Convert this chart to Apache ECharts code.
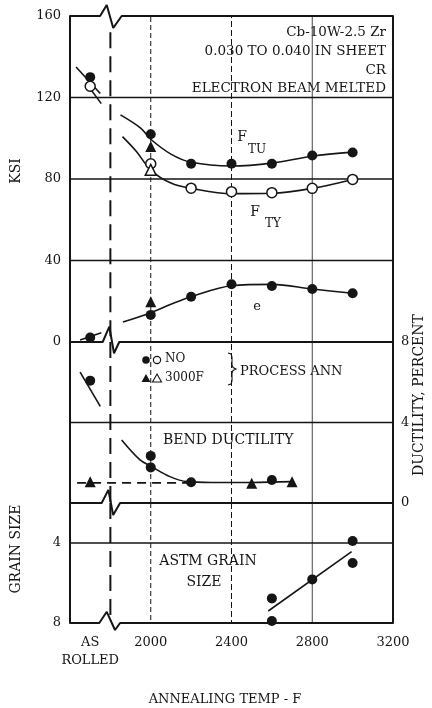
<!DOCTYPE html>
<html>
<head>
<meta charset="utf-8">
<script src="https://cdn.jsdelivr.net/npm/echarts@6/dist/echarts.min.js"></script>
<style>
  html, body { margin: 0; padding: 0; background: #fff; }
  #chart { width: 432px; height: 708px; }
</style>
</head>
<body>
<div id="chart"></div>
<script>
// ---- axis ticks -----------------------------------------------------------
const xTickValues = [1700, 2000, 2400, 2800, 3200];
const xTickLabels = ['AS\nROLLED', '2000', '2400', '2800', '3200'];
const ksiTicks = [0, 40, 80, 120, 160];
const ductilityTicks = [0, 4, 8];
const grainTicks = [4, 8];

// ---- temperatures (F); as-rolled condition plotted left of the axis break ----
const temps = [1700, 2000, 2200, 2400, 2600, 2800, 3000];

// ---- strength (ksi) and elongation, no process anneal ----
const ftu = [130, 102, 87.5, 87.5, 87.5, 91.5, 93];
const fty = [125.5, 87.5, 75.5, 73.8, 73.3, 75.4, 79.8];
const elong = [2.2, 13.3, 22.2, 28.3, 27.5, 26, 23.9];

// ---- 3000F process anneal ----
const ftu3000 = [[2000, 96]];
const fty3000 = [[2000, 84.5]];
const elong3000 = [[2000, 19.8]];

// ---- faired curves ----
const ftuCurve = [[1850, 111.5], [1950, 105], [2000, 99.5], [2100, 92.2], [2200, 88.2], [2400, 86.4], [2600, 87.8], [2800, 91.2], [3000, 93.2]];
const ftyCurve = [[1860, 100.8], [1930, 93.4], [2000, 84.4], [2100, 78], [2200, 75.4], [2400, 72.8], [2600, 73], [2800, 75.4], [3000, 79.8]];
const elongCurve = [[1862, 9.8], [2000, 14.4], [2100, 18.5], [2200, 22.2], [2400, 27.6], [2600, 28.3], [2800, 26], [3000, 23.9]];
const ftuAsRolledTrend = [[1630, 135], [1750, 122]];
const ftyAsRolledTrend = [[1680, 127], [1755, 117]];
const elongAsRolledTrend = [[1650, 1], [1755, 4.5]];

// ---- ductility (percent) ----
const ductAsRolled = [[1700, 6.08]];
const ductAsRolledTrend = [[1650, 6.5], [1750, 4.8]];
const bendNoAnneal = [[2000, 2.34], [2000, 1.77], [2200, 1.03], [2600, 1.14]];
const bend3000 = [[1700, 1.06], [2500, 0.98], [2700, 1.06]];
const bendCurve = [[1856, 3.13], [1947, 2.14], [2005, 1.8], [2095, 1.31], [2180, 1.06], [2300, 1.02], [2500, 1.02], [2700, 1.06]];
const bendAsRolledLevel = [[1635, 1.0], [2190, 1.0]];

// ---- ASTM grain size ----
const grainNoAnneal = [[2600, 6.77], [2600, 7.9], [2800, 5.82], [3000, 3.9], [3000, 5.0]];
const grainTrend = [[2582, 7.4], [2995, 4.43]];

// ---- axis-break zigzags, in each panel's own units ----
const breakKsiTop = [[1600, 160], [1749, 160], [1782, 165.4], [1814, 154.1], [1856, 160], [3200, 160]];
const breakKsiZero = [[1600, 0], [1762, 0], [1795, 7.5], [1818, -5.5], [1844, 0], [3200, 0]];
const breakDuctZero = [[1600, 0], [1757, 0], [1790, 0.65], [1814, -0.6], [1848, 0], [3200, 0]];
const breakGrainBottom = [[1600, 8], [1745, 8], [1782, 7.44], [1823, 8.35], [1848, 8], [3200, 8]];

const INK = '#151515';
const FONT = '"DejaVu Serif", "Liberation Serif", serif';

const zip = (xs, ys) => xs.map((x, i) => [x, ys[i]]);

function line(xi, yi, data, opts = {}) {
  return {
    type: 'line', xAxisIndex: xi, yAxisIndex: yi, data,
    symbol: 'none', clip: false, silent: true, animation: false,
    smooth: opts.smooth || false,
    z: opts.z || 2,
    lineStyle: { color: opts.color || INK, width: opts.width || 1.6, type: opts.type || 'solid' }
  };
}
function dots(xi, yi, data, kind) {
  const open = kind === 'openCircle' || kind === 'openTriangle';
  const tri = kind === 'triangle' || kind === 'openTriangle';
  return {
    type: 'scatter', xAxisIndex: xi, yAxisIndex: yi, data,
    symbol: tri ? 'triangle' : 'circle', symbolSize: tri ? 11 : 10,
    silent: true, animation: false, z: 5,
    itemStyle: open
      ? { color: '#fff', borderColor: INK, borderWidth: 1.5, opacity: 1 }
      : { color: INK, opacity: 1 }
  };
}
function vRules(xi, yi, lo, hi) {
  return [
    line(xi, yi, [[2000, lo], [2000, hi]], { width: 1, type: [5, 3], z: 1 }),
    line(xi, yi, [[2400, lo], [2400, hi]], { width: 1, type: [6, 3], z: 1 }),
    line(xi, yi, [[2800, lo], [2800, hi]], { width: 1, color: '#444', z: 1 })
  ];
}

const series = [
  // panel frames and rules
  line(0, 0, breakKsiTop, { width: 2 }),
  line(0, 0, breakKsiZero, { width: 2 }),
  line(0, 0, [[1600, 120], [3200, 120]], { width: 1.5 }),
  line(0, 0, [[1600, 80], [3200, 80]], { width: 1.5 }),
  line(0, 0, [[1600, 40], [3200, 40]], { width: 1.5 }),
  line(0, 0, [[1800, 152], [1800, 0]], { width: 2, type: [16, 8] }),
  ...vRules(0, 0, 0, 160),
  line(1, 3, breakDuctZero, { width: 2 }),
  line(1, 3, [[1600, 4], [3200, 4]], { width: 1.5 }),
  line(1, 3, [[1800, 8], [1800, 0]], { width: 2, type: [16, 8] }),
  ...vRules(1, 3, 0, 8),
  line(2, 4, breakGrainBottom, { width: 2 }),
  line(2, 4, [[1600, 4], [3200, 4]], { width: 1.5 }),
  line(2, 4, [[1800, 2], [1800, 8]], { width: 2, type: [16, 8] }),
  ...vRules(2, 4, 2, 8),

  // strength and elongation
  line(0, 0, ftuCurve, { smooth: 0.35 }),
  line(0, 0, ftyCurve, { smooth: 0.35 }),
  line(0, 0, elongCurve, { smooth: 0.35 }),
  line(0, 0, ftuAsRolledTrend),
  line(0, 0, ftyAsRolledTrend),
  line(0, 0, elongAsRolledTrend),
  dots(0, 0, zip(temps, ftu), 'circle'),
  dots(0, 0, zip(temps, fty), 'openCircle'),
  dots(0, 0, zip(temps, elong), 'circle'),
  dots(0, 0, ftu3000, 'triangle'),
  dots(0, 0, fty3000, 'openTriangle'),
  dots(0, 0, elong3000, 'triangle'),

  // ductility
  line(1, 3, ductAsRolledTrend),
  line(1, 3, bendCurve, { smooth: 0.35 }),
  line(1, 3, bendAsRolledLevel, { type: [9, 6] }),
  dots(1, 3, ductAsRolled, 'circle'),
  dots(1, 3, bendNoAnneal, 'circle'),
  dots(1, 3, bend3000, 'triangle'),

  // grain size
  line(2, 4, grainTrend),
  dots(2, 4, grainNoAnneal, 'circle')
];

const gridBox = { left: 70, right: 39 };
const axisFrame = { show: true, lineStyle: { color: INK, width: 2 } };
const tickText = { color: INK, fontFamily: FONT, fontSize: 13 };

function xAx(gridIndex, labelled) {
  return {
    type: 'value', gridIndex, min: 1600, max: 3200, interval: 400,
    axisLine: { show: false }, axisTick: { show: false }, splitLine: { show: false },
    axisLabel: labelled ? Object.assign({
      show: true, margin: 11, lineHeight: 18,
      customValues: xTickValues,
      formatter: v => xTickLabels[xTickValues.indexOf(v)] || ''
    }, tickText) : { show: false }
  };
}
function yAx(gridIndex, position, min, max, interval, labels, extra = {}) {
  return Object.assign({
    type: 'value', gridIndex, position, min, max, interval,
    axisLine: axisFrame, axisTick: { show: false }, splitLine: { show: false },
    axisLabel: labels ? Object.assign({ show: true, margin: 9, customValues: labels }, tickText) : { show: false }
  }, extra);
}

const T = (text, x, y, size, extra = {}) => Object.assign({
  type: 'text', x, y, silent: true,
  style: Object.assign({
    text, fill: INK, font: size + 'px ' + FONT,
    align: 'left', verticalAlign: 'middle', textAlign: 'left', textVerticalAlign: 'middle'
  }, extra.style || {})
}, extra.el || {});
const C = (text, x, y, size) => T(text, x, y, size, { style: { align: 'center', textAlign: 'center' } });
const R = (text, x, y, size) => T(text, x, y, size, { style: { align: 'right', textAlign: 'right' } });
const V = (text, x, y, size) => T(text, x, y, size, { style: { align: 'center', textAlign: 'center' }, el: { rotation: Math.PI / 2 } });

const graphic = [
  R('Cb-10W-2.5 Zr', 386, 32, 13.5),
  R('0.030 TO 0.040 IN SHEET', 386, 51, 13.5),
  R('CR', 386, 70, 13.5),
  R('ELECTRON BEAM MELTED', 386, 88, 13.5),
  C('F', 242, 137, 14), C('TU', 257, 150, 12),
  C('F', 255, 212, 14), C('TY', 273, 224, 12),
  C('e', 257, 307, 13),
  { type: 'circle', shape: { cx: 146, cy: 360, r: 3.8 }, style: { fill: INK }, silent: true },
  { type: 'circle', shape: { cx: 157, cy: 360, r: 3.6 }, style: { fill: '#fff', stroke: INK, lineWidth: 1.2 }, silent: true },
  T('NO', 165, 359, 12),
  { type: 'polygon', shape: { points: [[146, 374], [141.5, 382], [150.5, 382]] }, style: { fill: INK }, silent: true },
  { type: 'polygon', shape: { points: [[157, 374], [152.5, 382], [161.5, 382]] }, style: { fill: 'none', stroke: INK, lineWidth: 1.1 }, silent: true },
  T('3000F', 165, 378, 12),
  { type: 'polyline', silent: true,
    shape: { points: [[228, 353], [231, 354], [232, 357], [232, 365], [233, 367.5], [236, 369], [233, 370.5], [232, 373], [232, 381], [231, 384], [228, 385]] },
    style: { fill: 'none', stroke: INK, lineWidth: 1.1 } },
  T('PROCESS ANN', 240, 372, 13),
  T('BEND DUCTILITY', 163, 440, 14),
  C('ASTM GRAIN', 208, 561, 14),
  C('SIZE', 204, 582, 14),
  V('KSI', 16, 171, 14),
  V('GRAIN SIZE', 16, 549, 14),
  V('DUCTILITY, PERCENT', 419, 395, 14),
  C('ANNEALING TEMP - F', 225, 700, 13)
];

const option = {
  backgroundColor: '#fff',
  animation: false,
  grid: [
    Object.assign({ top: 16, height: 326 }, gridBox),
    Object.assign({ top: 342, height: 161 }, gridBox),
    Object.assign({ top: 503, height: 120 }, gridBox)
  ],
  xAxis: [xAx(0, false), xAx(1, false), xAx(2, true)],
  yAxis: [
    yAx(0, 'left', 0, 160, 40, ksiTicks),
    yAx(0, 'right', 0, 160, 40, null),
    yAx(1, 'left', 0, 8, 4, null),
    yAx(1, 'right', 0, 8, 4, ductilityTicks, {}),
    yAx(2, 'left', 2, 8, 2, grainTicks, { inverse: true }),
    yAx(2, 'right', 2, 8, 2, null, { inverse: true })
  ],
  series,
  graphic
};

// right-hand ductility labels sit a little closer to the frame
option.yAxis[3].axisLabel.margin = 8;

const chart = echarts.init(document.getElementById('chart'), null, { renderer: 'canvas' });
chart.setOption(option);
</script>
</body>
</html>
